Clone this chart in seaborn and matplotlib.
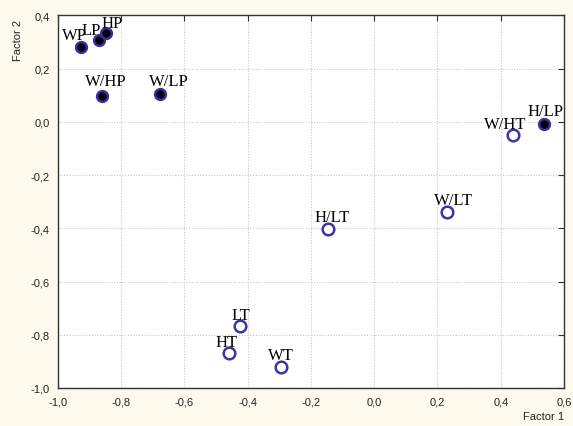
import matplotlib
matplotlib.use("Agg")
import matplotlib.pyplot as plt
import seaborn as sns
import pandas as pd

# Data
labels_p = ["WP", "LP", "HP", "W/HP", "W/LP", "H/LP"]
f1_p = [-0.927, -0.870, -0.848, -0.861, -0.677, 0.538]
f2_p = [0.283, 0.308, 0.335, 0.097, 0.104, -0.008]

labels_t = ["W/HT", "W/LT", "H/LT", "LT", "HT", "WT"]
f1_t = [0.440, 0.231, -0.146, -0.424, -0.459, -0.294]
f2_t = [-0.050, -0.340, -0.402, -0.766, -0.868, -0.921]

xticks = [-1.0, -0.8, -0.6, -0.4, -0.2, 0.0, 0.2, 0.4, 0.6]
yticks = [-1.0, -0.8, -0.6, -0.4, -0.2, 0.0, 0.2, 0.4]

# label offsets (pixels: dx, dy above point)
label_off = {"WP": (-7, 8), "LP": (-8, 6), "HP": (6, 6), "W/HP": (4, 11),
             "W/LP": (9, 9), "H/LP": (1, 9), "W/HT": (-8, 7), "W/LT": (6, 8),
             "H/LT": (4, 8), "LT": (1, 7), "HT": (-3, 7), "WT": (0, 8)}

df_p = pd.DataFrame({"Factor 1": f1_p, "Factor 2": f2_p, "label": labels_p})
df_t = pd.DataFrame({"Factor 1": f1_t, "Factor 2": f2_t, "label": labels_t})

sns.set_style("white")
plt.rcParams["font.family"] = ["Liberation Sans", "DejaVu Sans"]

bg = "#fdf9ec"
fig = plt.figure(figsize=(5.73, 4.27), dpi=100, facecolor=bg)
ax = fig.add_axes([0.1012, 0.0890, 0.8831, 0.8724])
ax.set_facecolor("white")

sns.scatterplot(data=df_p, x="Factor 1", y="Factor 2", ax=ax, s=60,
                color="black", edgecolor="#3a2f9e", linewidth=1.8, zorder=3)
sns.scatterplot(data=df_t, x="Factor 1", y="Factor 2", ax=ax, s=70,
                color="white", edgecolor="#3c35a6", linewidth=1.8, zorder=3)

for df in (df_p, df_t):
    for x, y, lab in zip(df["Factor 1"], df["Factor 2"], df["label"]):
        dx, dy = label_off[lab]
        ax.annotate(lab, (x, y), xytext=(dx * 0.72, dy * 0.72),
                    textcoords="offset points", ha="center", va="baseline",
                    fontsize=12, family=["Liberation Serif"], color="black",
                    zorder=4)

ax.set_xlim(-1.0, 0.6)
ax.set_ylim(-1.0, 0.4)
ax.set_xticks(xticks)
ax.set_yticks(yticks)
ax.set_xticklabels([f"{v:.1f}".replace(".", ",") for v in xticks], fontsize=8)
ax.set_yticklabels([f"{v:.1f}".replace(".", ",") for v in yticks], fontsize=8)
ax.grid(True, color="#c8c8c8", linestyle=(0, (1, 1.5)), linewidth=0.8)
ax.set_axisbelow(True)

for sp in ax.spines.values():
    sp.set_visible(True)
    sp.set_color("#333333")
    sp.set_linewidth(1.0)

ax.tick_params(axis="both", which="both", direction="out", length=4,
               width=0.8, color="#333333", pad=2, labelcolor="#222222")
ax.tick_params(top=True, right=True, labeltop=False, labelright=False)
# inward ticks on top/right
for t in ax.xaxis.get_major_ticks():
    t.tick2line.set_marker(3)  # TICKDOWN
    t.tick2line.set_markersize(4)
for t in ax.yaxis.get_major_ticks():
    t.tick2line.set_marker(0)  # TICKLEFT
    t.tick2line.set_markersize(4)

ax.set_xlabel("")
ax.set_ylabel("")
fig.text(0.985, 0.012, "Factor 1", ha="right", va="bottom", fontsize=8, color="#222222")
fig.text(0.022, 0.905, "Factor 2", ha="left", va="center", rotation=90,
         fontsize=8, color="#222222")

fig.savefig("out.png", dpi=100, facecolor=bg)
